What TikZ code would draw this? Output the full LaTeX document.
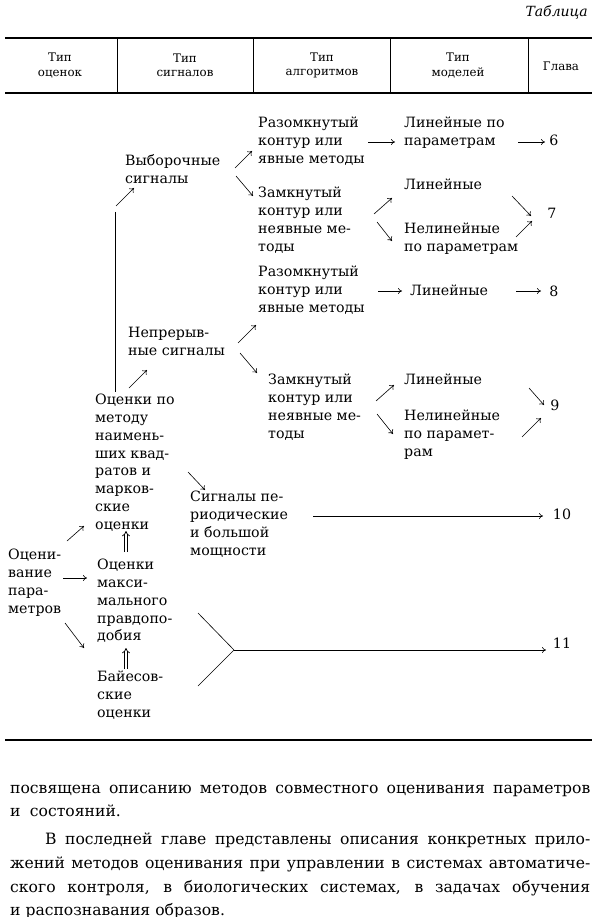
\documentclass[tikz,border=0pt]{standalone}
\usepackage{fontspec}
\setmainfont{DejaVu Serif}
\usetikzlibrary{arrows.meta}
\begin{document}
\begin{tikzpicture}[x=1pt,y=-1pt,
  txt/.style={anchor=north west,inner sep=0pt,align=left,font=\fontsize{14.2}{17.8}\selectfont},
  hd/.style={anchor=center,inner sep=0pt,align=center,font=\fontsize{11.8}{14.5}\selectfont},
  num/.style={anchor=center,inner sep=0pt,font=\fontsize{14.2}{17.8}\selectfont},
  arr/.style={-{To[length=4pt,width=6pt]},line width=0.6pt},
  dbl/.style={double,double distance=2pt,line width=0.7pt,-{Implies[length=3.5pt]}},
  plain/.style={line width=0.6pt},
  hrule/.style={line width=1.3pt},
  vrule/.style={line width=0.8pt},
  partxt/.style={anchor=base west,inner sep=0pt,font=\fontsize{15.6}{23}\selectfont}]
\useasboundingbox (0,0) rectangle (600,917);

% ---------- header ----------
\node[anchor=east,inner sep=0pt,font=\fontsize{14}{17}\itshape] (tab) at (588,12) {Таблица};
\coordinate (rtl) at (5,38);  \coordinate (rtr) at (592,38);
\coordinate (rbl) at (5,93);  \coordinate (rbr) at (592,93);
\draw[hrule] (rtl) -- (rtr);
\draw[hrule] (rbl) -- (rbr);
\foreach \xx/\nm in {117/d1,253/d2,390/d3,528/d4}{
  \coordinate (\nm t) at (\xx,38); \coordinate (\nm b) at (\xx,93);
  \draw[vrule] (\nm t) -- (\nm b);
}
\node[hd] (h1) at (60,65.5) {Тип\\оценок};
\node[hd] (h2) at (185,65.5) {Тип\\сигналов};
\node[hd] (h3) at (322,65.5) {Тип\\алгоритмов};
\node[hd] (h4) at (458,65.5) {Тип\\моделей};
\node[hd] (h5) at (561,66) {Глава};

% ---------- nodes ----------
\node[txt] (raz1) at (258,117) {Разомкнутый\\контур или\\явные методы};
\node[txt] (lin1) at (404,117) {Линейные по\\параметрам};
\node[num] (c6) at (554,140) {6};
\node[txt] (vyb) at (125,154) {Выборочные\\сигналы};
\node[txt] (zam1) at (258,187) {Замкнутый\\контур или\\неявные ме-\\тоды};
\node[txt] (lin2) at (404,179) {Линейные};
\node[txt] (nel1) at (404,223) {Нелинейные\\по параметрам};
\node[num] (c7) at (552,213) {7};
\node[txt] (raz2) at (258,266) {Разомкнутый\\контур или\\явные методы};
\node[txt] (lin3) at (410,285) {Линейные};
\node[num] (c8) at (554,291) {8};
\node[txt] (nep) at (128,327) {Непрерыв-\\ные сигналы};
\node[txt] (zam2) at (268,374) {Замкнутый\\контур или\\неявные ме-\\тоды};
\node[txt] (lin4) at (404,374) {Линейные};
\node[txt] (nel2) at (404,410) {Нелинейные\\по парамет-\\рам};
\node[num] (c9) at (555,405) {9};
\node[txt] (mnk) at (95,394) {Оценки по\\методу\\наимень-\\ших квад-\\ратов и\\марков-\\ские\\оценки};
\node[txt] (sig) at (190,491) {Сигналы пе-\\риодические\\и большой\\мощности};
\node[num] (c10) at (562,514) {10};
\node[txt] (ocp) at (8,549) {Оцени-\\вание\\пара-\\метров};
\node[txt] (mmp) at (97,559) {Оценки\\макси-\\мального\\правдопо-\\добия};
\node[txt] (bay) at (97,671) {Байесов-\\ские\\оценки};
\node[num] (c11) at (562,643) {11};

% ---------- connectors ----------
\coordinate (a1) at (235,168); \coordinate (b1) at (252,151);
\draw[arr] (a1) -- (b1);
\coordinate (a2) at (236,176); \coordinate (b2) at (253,196);
\draw[arr] (a2) -- (b2);
\coordinate (a3) at (368,142); \coordinate (b3) at (395,142);
\draw[arr] (a3) -- (b3);
\coordinate (a4) at (518,142); \coordinate (b4) at (545,142);
\draw[arr] (a4) -- (b4);
\coordinate (a5) at (374,214); \coordinate (b5) at (392,198);
\draw[arr] (a5) -- (b5);
\coordinate (a6) at (377,222); \coordinate (b6) at (392,241);
\draw[arr] (a6) -- (b6);
\coordinate (a7) at (512,196); \coordinate (b7) at (531,216);
\draw[arr] (a7) -- (b7);
\coordinate (a8) at (516,237); \coordinate (b8) at (532,221);
\draw[arr] (a8) -- (b8);
\coordinate (vt) at (115,212); \coordinate (vb) at (115,392);
\draw[plain] (vt) -- (vb);
\coordinate (a9) at (116,206); \coordinate (b9) at (134,188);
\draw[arr] (a9) -- (b9);
\coordinate (a10) at (378,291); \coordinate (b10) at (402,291);
\draw[arr] (a10) -- (b10);
\coordinate (a11) at (516,291); \coordinate (b11) at (541,291);
\draw[arr] (a11) -- (b11);
\coordinate (a12) at (238,343); \coordinate (b12) at (256,325);
\draw[arr] (a12) -- (b12);
\coordinate (a13) at (240,353); \coordinate (b13) at (257,373);
\draw[arr] (a13) -- (b13);
\coordinate (a14) at (129,388); \coordinate (b14) at (147,370);
\draw[arr] (a14) -- (b14);
\coordinate (a15) at (376,401); \coordinate (b15) at (394,385);
\draw[arr] (a15) -- (b15);
\coordinate (a16) at (377,414); \coordinate (b16) at (393,434);
\draw[arr] (a16) -- (b16);
\coordinate (a17) at (529,388); \coordinate (b17) at (544,405);
\draw[arr] (a17) -- (b17);
\coordinate (a18) at (522,437); \coordinate (b18) at (541,418);
\draw[arr] (a18) -- (b18);
\coordinate (a19) at (188,472); \coordinate (b19) at (205,490);
\draw[arr] (a19) -- (b19);
\coordinate (a20) at (313,516); \coordinate (b20) at (543,516);
\draw[arr] (a20) -- (b20);
\coordinate (a21) at (67,541); \coordinate (b21) at (84,526);
\draw[arr] (a21) -- (b21);
\coordinate (a22) at (63,578); \coordinate (b22) at (87,578);
\draw[arr] (a22) -- (b22);
\coordinate (a23) at (65,623); \coordinate (b23) at (84,648);
\draw[arr] (a23) -- (b23);
\coordinate (a24) at (126,552); \coordinate (b24) at (126,531);
\draw[dbl] (a24) -- (b24);
\coordinate (a25) at (126,669); \coordinate (b25) at (126,648);
\draw[dbl] (a25) -- (b25);
\coordinate (s1) at (198,613); \coordinate (jn) at (234,650); \coordinate (s2) at (198,686);
\draw[plain] (s1) -- (jn);
\draw[plain] (s2) -- (jn);
\coordinate (b26) at (546,650);
\draw[arr] (jn) -- (b26);

% ---------- bottom rule and text ----------
\coordinate (bl) at (5,740); \coordinate (br) at (592,740);
\draw[line width=1.6pt] (bl) -- (br);
\node[partxt] (p1) at (10,793) {\makebox[580pt][s]{посвящена описанию методов совместного оценивания параметров}};
\node[partxt] (p2) at (10,816) {и\hspace{0.6em}состояний.};
\node[partxt] (p3) at (45,844) {\makebox[545pt][s]{В последней главе представлены описания конкретных прило-}};
\node[partxt] (p4) at (10,868) {\makebox[580pt][s]{жений методов оценивания при управлении в системах автоматиче-}};
\node[partxt] (p5) at (10,892) {\makebox[580pt][s]{ского контроля, в биологических системах, в задачах обучения}};
\node[partxt] (p6) at (10,915) {и распознавания образов.};
\end{tikzpicture}
\end{document}
